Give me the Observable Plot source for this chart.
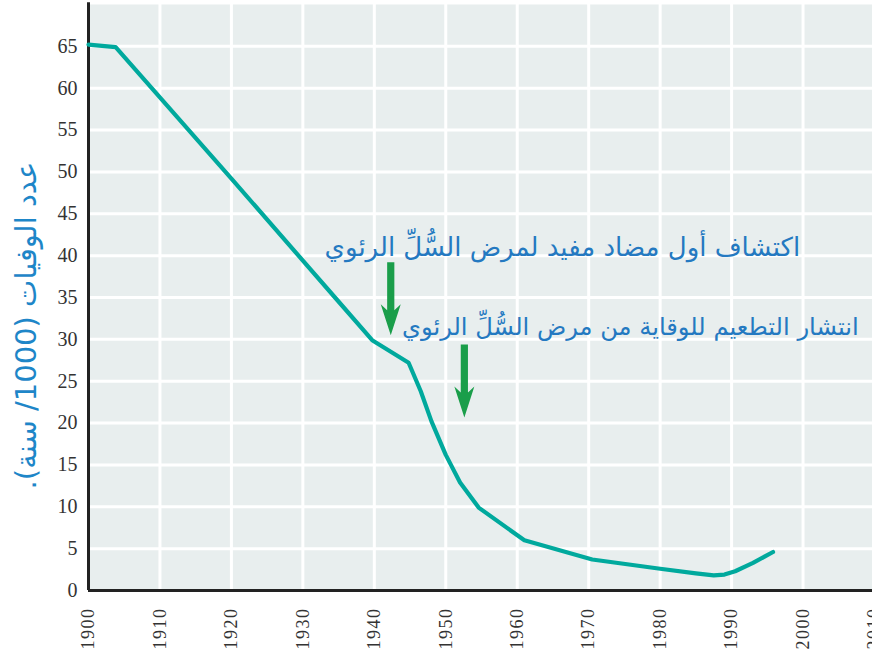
<!DOCTYPE html>
<html>
<head>
<meta charset="utf-8">
<script src="https://cdn.jsdelivr.net/npm/d3@7"></script>
<script src="https://cdn.jsdelivr.net/npm/@observablehq/plot@0.6"></script>
<style>
  html, body { margin: 0; padding: 0; background: #fff; overflow: hidden; }
  #chart { width: 872px; height: 662px; overflow: hidden; }
</style>
</head>
<body>
<div id="chart"></div>
<script>
// Data
const years  = [1900, 1903.8, 1920, 1934.5, 1939.7, 1944.8, 1946.5, 1948, 1950, 1952, 1954.6, 1961, 1970.5, 1980, 1985, 1987.5, 1989, 1990.5, 1993, 1995.8];
const deaths = [65.2, 64.9, 49.2, 35.0, 29.9, 27.2, 23.8, 20.2, 16.2, 12.9, 9.9, 6.0, 3.7, 2.6, 2.05, 1.8, 1.9, 2.3, 3.3, 4.6];

const xTicks = [1900, 1910, 1920, 1930, 1940, 1950, 1960, 1970, 1980, 1990, 2000, 2010];
const yTicks = [0, 5, 10, 15, 20, 25, 30, 35, 40, 45, 50, 55, 60, 65];
const gridY  = [5, 10, 15, 20, 25, 30, 35, 40, 45, 50, 55, 60, 65];
const gridX  = [1910, 1920, 1930, 1940, 1950, 1960, 1970, 1980, 1990, 2000, 2010];

const yLabel = "عدد الوفيات (1000/ سنة).";

const noteTexts = [
  "اكتشاف أول مضاد مفيد لمرض السُّلِّ الرئوي",
  "انتشار التطعيم للوقاية من مرض السُّلِّ الرئوي"
];
const noteX = [1999.6, 2007.8];
const noteY = [41.0, 31.4];

const arrowX = [1942.3, 1952.6];
const arrowTop = [39.2, 29.4];

const series = years.map((y, i) => ({year: y, value: deaths[i]}));
const notes = noteTexts.map((t, i) => ({text: t, x: noteX[i], y: noteY[i]}));
const arrows = arrowX.map((x, i) => ({x, y: arrowTop[i]}));

const arrowShape = {
  draw(context, l) {
    const w = 3.6, hw = 10, hl = 31, notch = 6;
    context.moveTo(-w, 0);
    context.lineTo(-w, -(l - hl + notch));
    context.lineTo(-hw, -(l - hl));
    context.lineTo(0, -l);
    context.lineTo(hw, -(l - hl));
    context.lineTo(w, -(l - hl + notch));
    context.lineTo(w, 0);
    context.closePath();
  }
};

const noteStyle = {x: "x", y: "y", text: "text", textAnchor: "end", fill: "#2479c1", fontFamily: "'DejaVu Sans', sans-serif"};

const chart = Plot.plot({
  width: 872,
  height: 662,
  marginTop: 4,
  marginBottom: 72,
  marginLeft: 88,
  marginRight: 0,
  style: {fontFamily: "'Liberation Serif', serif", background: "#fff", overflow: "hidden"},
  x: {domain: [1900, 2010], range: [88, 874]},
  y: {domain: [0, 70]},
  marks: [
    Plot.frame({fill: "#e8eeee", stroke: null}),
    Plot.ruleX(gridX, {stroke: "#fff", strokeWidth: 3}),
    Plot.ruleY(gridY, {stroke: "#fff", strokeWidth: 3}),
    Plot.axisX({ticks: xTicks, tickFormat: d => String(d), tickSize: 0, tickPadding: 17, tickRotate: -90, fontSize: 18, fill: "#333", label: null, className: "xax"}),
    Plot.axisY({ticks: yTicks, tickSize: 0, tickPadding: 11, fontSize: 20, fill: "#333", label: null}),
    Plot.ruleX([1900], {stroke: "#222", strokeWidth: 3, y1: 0, y2: 70.2}),
    Plot.ruleY([0], {stroke: "#222", strokeWidth: 3}),
    Plot.line(series, {x: "year", y: "value", stroke: "#00a99d", strokeWidth: 4.2, strokeLinejoin: "round"}),
    Plot.vector(arrows, {x: "x", y: "y", length: 73, rotate: 180, anchor: "start", shape: arrowShape, fill: "#1a9e4a", stroke: "none"}),
    Plot.text(notes.slice(0, 1), {...noteStyle, fontSize: 26}),
    Plot.text(notes.slice(1), {...noteStyle, fontSize: 24.2}),
    Plot.text([yLabel + "\u200F"], {text: d => d, frameAnchor: "left", textAnchor: "middle", dx: -62, dy: 28, rotate: -90, fill: "#1e86c8", fontSize: 29, fontFamily: "'DejaVu Sans', sans-serif"})
  ]
});

d3.select(chart).selectAll(".xax text").attr("letter-spacing", "1.5px");
document.getElementById("chart").appendChild(chart);
</script>
</body>
</html>
